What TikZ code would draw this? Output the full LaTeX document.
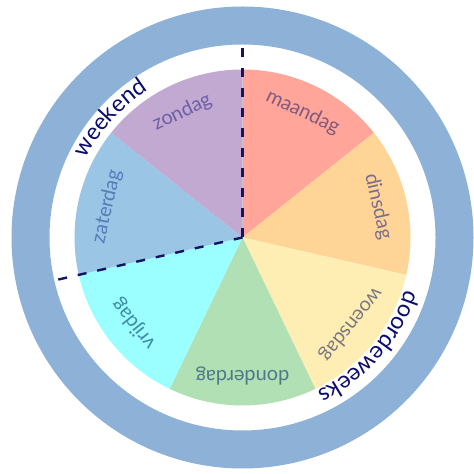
\documentclass[tikz,border=0pt]{standalone}
\usepackage{fontspec}
\setmainfont{Lato}
\usepackage{xcolor}
\usetikzlibrary{calc,decorations.text}
\definecolor{ringblue}{RGB}{141,177,215}
\definecolor{navyline}{RGB}{20,20,100}
\definecolor{navytext}{RGB}{12,12,110}
\definecolor{mafill}{RGB}{255,165,153}
\definecolor{difill}{RGB}{255,213,151}
\definecolor{wofill}{RGB}{255,238,179}
\definecolor{dofill}{RGB}{176,224,180}
\definecolor{vrfill}{RGB}{156,255,255}
\definecolor{zafill}{RGB}{154,197,228}
\definecolor{zofill}{RGB}{193,169,210}
\definecolor{matext}{RGB}{128,90,125}
\definecolor{ditext}{RGB}{125,110,140}
\definecolor{wotext}{RGB}{125,120,130}
\definecolor{dotext}{RGB}{80,120,140}
\definecolor{vrtext}{RGB}{60,140,165}
\definecolor{zatext}{RGB}{85,125,185}
\definecolor{zotext}{RGB}{110,95,165}
\newcommand{\outerfont}{\fontsize{23.5}{25}\selectfont}
\tikzstyle{daylabel} = [font=\fontsize{20}{22}\selectfont, inner sep=0pt]
\tikzstyle{divider} = [navyline, line width=2.4bp, dash pattern=on 9bp off 11bp]

\begin{document}
\begin{tikzpicture}[x=1bp,y=1bp]
\useasboundingbox (0,0) rectangle (474,474);
\coordinate (c) at (242.5,236.5);
% Outer ring
\fill[ringblue, even odd rule] (c) circle[radius=231] (c) circle[radius=193];
% Day wedges
\foreach \name/\fillc/\textc [count=\i from 0] in {maandag/mafill/matext, dinsdag/difill/ditext, woensdag/wofill/wotext, donderdag/dofill/dotext, vrijdag/vrfill/vrtext, zaterdag/zafill/zatext, zondag/zofill/zotext} {
  \pgfmathsetmacro\a{90-51.4286*\i}
  \pgfmathsetmacro\b{\a-51.4286}
  \pgfmathsetmacro\m{\a-25.7143}
  \fill[\fillc] (c) -- ++(\a:168) arc[start angle=\a, end angle=\b, radius=168] -- cycle;
  \node[daylabel, text=\textc, rotate=\m-90] (\name) at ($(c)+(\m:139)$) {\name};
}
% Dividers
\coordinate (wtop) at ($(c)+(90:193)$);
\coordinate (wleft) at ($(c)+(192.857:194)$);
\draw[divider] (c) -- (wtop);
\draw[divider] (c) -- (wleft);
% Group labels
\path[decorate, decoration={text along path, text align=center,
    text={|\outerfont\color{navytext}|weekend}}]
  ($(c)+(162:175)$) arc[start angle=162, end angle=114, radius=175];
\path[decorate, decoration={text along path, text align=center,
    text={|\outerfont\color{navytext}|doordeweeks}}]
  ($(c)+(-8:171)$) arc[start angle=-8, end angle=-74, radius=171];
\end{tikzpicture}
\end{document}
